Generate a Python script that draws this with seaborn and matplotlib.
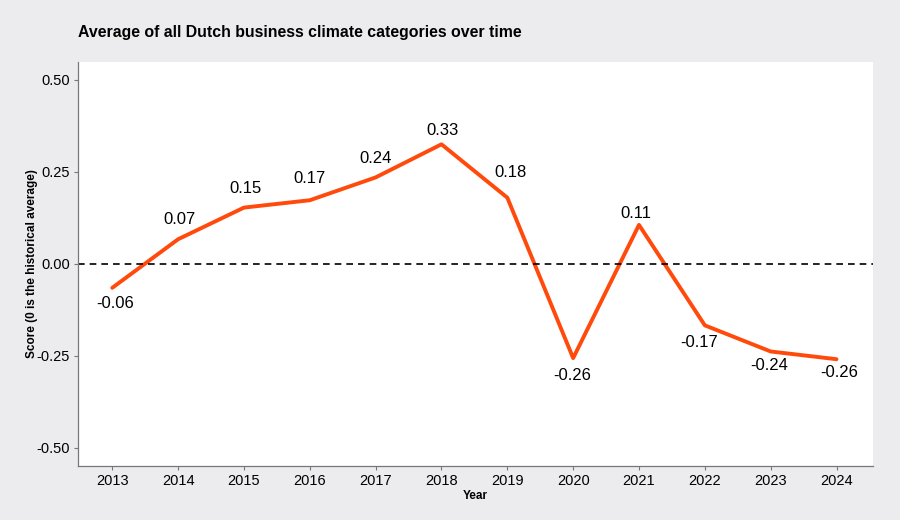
import pandas as pd
import matplotlib.pyplot as plt
import seaborn as sns

# Datos del gráfico
years = [2013, 2014, 2015, 2016, 2017, 2018, 2019, 2020, 2021, 2022, 2023, 2024]
scores = [-0.065, 0.067, 0.153, 0.173, 0.235, 0.325, 0.18, -0.256, 0.106, -0.167, -0.238, -0.259]
labels = ["-0.06", "0.07", "0.15", "0.17", "0.24", "0.33", "0.18", "-0.26", "0.11", "-0.17", "-0.24", "-0.26"]
yticks = [-0.50, -0.25, 0.00, 0.25, 0.50]

# desplazamiento de cada etiqueta (puntos)
label_dx = [2, 1, 1, 0, 0, 1, 2, -1, -2, -4, -1, 2]
label_dy = [-11.5, 14.5, 13.5, 15.5, 13.5, 10, 18, -12.5, 8.5, -12.5, -10, -9.5]

df = pd.DataFrame({"Year": years, "Score": scores})

sns.set_style("white")
plt.rcParams["font.family"] = ["Liberation Sans", "DejaVu Sans"]
plt.rcParams["text.color"] = "black"
plt.rcParams["axes.labelcolor"] = "black"
plt.rcParams["xtick.labelcolor"] = "black"
plt.rcParams["ytick.labelcolor"] = "black"

bg = "#ececee"
line_color = "#ff4a0c"

fig = plt.figure(figsize=(9, 5.2), dpi=100, facecolor=bg)
ax = fig.add_axes([0.0867, 0.104, 0.883, 0.777])
ax.set_facecolor("white")

sns.lineplot(data=df, x="Year", y="Score", color=line_color, linewidth=2.8, ax=ax)
ax.axhline(0, color="black", linestyle=(0, (4, 3)), linewidth=1.2)

# Etiquetas de valores
for x, y, lab, dx, dy in zip(years, scores, labels, label_dx, label_dy):
    ax.annotate(lab, (x, y), xytext=(dx, dy), textcoords="offset points",
                ha="center", va="center", fontsize=12, color="black")

ax.set_xlim(2012.48, 2024.55)
ax.set_ylim(-0.549, 0.549)
ax.set_xticks(years)
ax.set_yticks(yticks)
ax.set_yticklabels([f"{t:.2f}" for t in yticks])
ax.tick_params(axis="both", labelsize=10.5, length=3, color="#777777", width=0.8,
               bottom=True, left=True, pad=3)

for side in ["top", "right"]:
    ax.spines[side].set_visible(False)
for side in ["left", "bottom"]:
    ax.spines[side].set_color("#777777")
    ax.spines[side].set_linewidth(0.9)

ax.set_xlabel("Year", fontsize=8.5, fontweight="bold", labelpad=1)
ax.set_ylabel("Score (0 is the historical average)", fontsize=8.5, fontweight="bold", labelpad=-1)

fig.text(0.0867, 0.938, "Average of all Dutch business climate categories over time",
         fontsize=11.4, fontweight="bold", ha="left", va="center")

fig.savefig("out.png", dpi=100, facecolor=bg)
